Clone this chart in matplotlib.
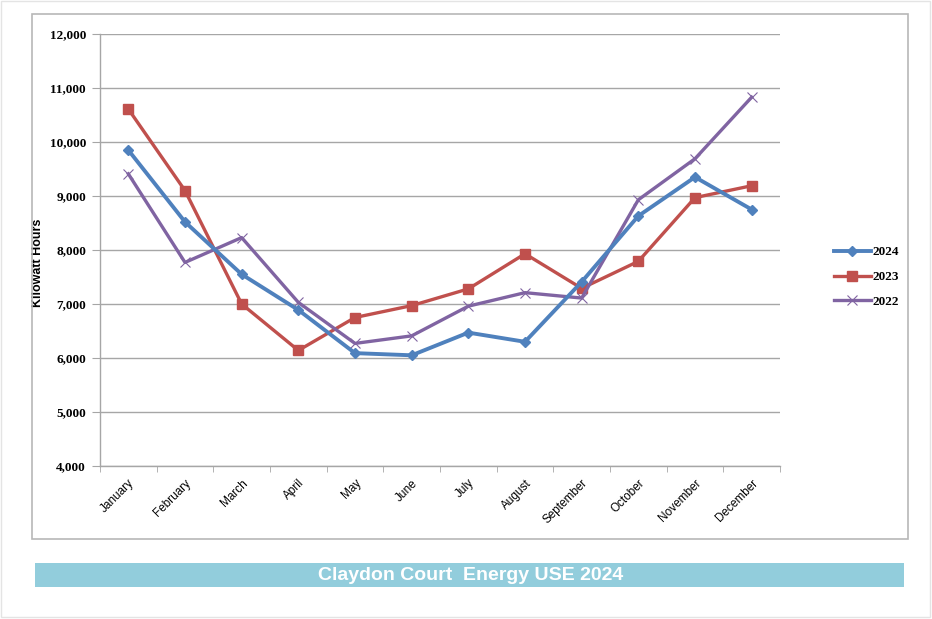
import matplotlib.pyplot as plt
from matplotlib.patches import Rectangle
from matplotlib.ticker import FuncFormatter, MultipleLocator
from matplotlib.transforms import ScaledTranslation

months = ['January', 'February', 'March', 'April', 'May', 'June', 'July',
          'August', 'September', 'October', 'November', 'December']
use2024 = [9850, 8520, 7550, 6890, 6090, 6050, 6470, 6300, 7410, 8630, 9350, 8750]
use2023 = [10610, 9100, 7000, 6140, 6750, 6970, 7280, 7930, 7290, 7790, 8970, 9190]
use2022 = [9410, 7770, 8230, 7030, 6270, 6410, 6960, 7210, 7110, 8930, 9690, 10830]

W, H = 932, 619
fig = plt.figure(figsize=(W / 100, H / 100), dpi=100)


def fx(px):
    return px / W


def fy(py):
    return 1 - py / H


# outer frame and chart frame
fig.patches.append(Rectangle((fx(1), fy(617)), fx(929), 616 / H, transform=fig.transFigure,
                             fill=False, ec='#e4e4e4', lw=1))
fig.patches.append(Rectangle((fx(32), fy(539)), fx(876), 525 / H, transform=fig.transFigure,
                             fill=False, ec='#b8b8b8', lw=1.2))

ax = fig.add_axes([fx(100), fy(466), fx(680), 432 / H])
x = list(range(len(months)))

ax.plot(x, use2024, color='#4F81BD', lw=2.8, marker='D', ms=5, label='2024', zorder=4)
ax.plot(x, use2023, color='#C0504D', lw=2.4, marker='s', ms=7, label='2023', zorder=3)
ax.plot(x, use2022, color='#8064A2', lw=2.4, marker='x', ms=7, mew=0.8, label='2022', zorder=3)

ax.set_xlim(-0.5, 11.5)
ax.set_ylim(4000, 12000)
ax.yaxis.set_major_locator(MultipleLocator(1000))
ax.yaxis.set_major_formatter(FuncFormatter(lambda v, p: f'{int(v):,}'))
ax.grid(axis='y', color='#a6a6a6', lw=1)
ax.set_axisbelow(True)

ax.set_xticks(x)
ax.set_xticklabels(months, rotation=45, ha='right', rotation_mode='anchor',
                   fontsize=8.5, family='Liberation Sans')
shift = ScaledTranslation(5 / 100, 0, fig.dpi_scale_trans)
for lab in ax.get_xticklabels():
    lab.set_transform(lab.get_transform() + shift)
ax.set_xticks([i - 0.5 for i in range(13)], minor=True)
ax.tick_params(axis='x', which='major', length=0, pad=8)
ax.tick_params(axis='x', which='minor', length=4, color='#a6a6a6', direction='out')
ax.tick_params(axis='y', length=6, color='#a6a6a6', pad=4)
for lab in ax.get_yticklabels():
    lab.set_family('Liberation Serif')
    lab.set_fontweight('bold')
    lab.set_fontsize(9.5)

for s in ['top', 'right']:
    ax.spines[s].set_visible(False)
for s in ['left', 'bottom']:
    ax.spines[s].set_color('#a6a6a6')
    ax.spines[s].set_linewidth(1)

ax.set_ylabel('Kilowatt Hours', fontsize=9, fontweight='bold', family='Liberation Sans')
ax.yaxis.set_label_coords((44 - 100) / 680, (466 - 263) / 432)

ax.legend(loc='center left', bbox_to_anchor=((822 - 100) / 680, (466 - 277) / 432),
          frameon=False, handlelength=2.8, labelspacing=0.95, handletextpad=0.1,
          prop={'family': 'Liberation Serif', 'weight': 'bold', 'size': 9.5})

# title banner
fig.patches.append(Rectangle((fx(35), fy(587)), fx(869), 24 / H, transform=fig.transFigure,
                             fc='#92CDDC', ec='none'))
fig.text(fx(471), fy(575), 'Claydon Court  Energy USE 2024', color='white',
         fontsize=14, fontweight='bold', family='Liberation Sans',
         ha='center', va='center')

fig.savefig('out.png', dpi=100)
